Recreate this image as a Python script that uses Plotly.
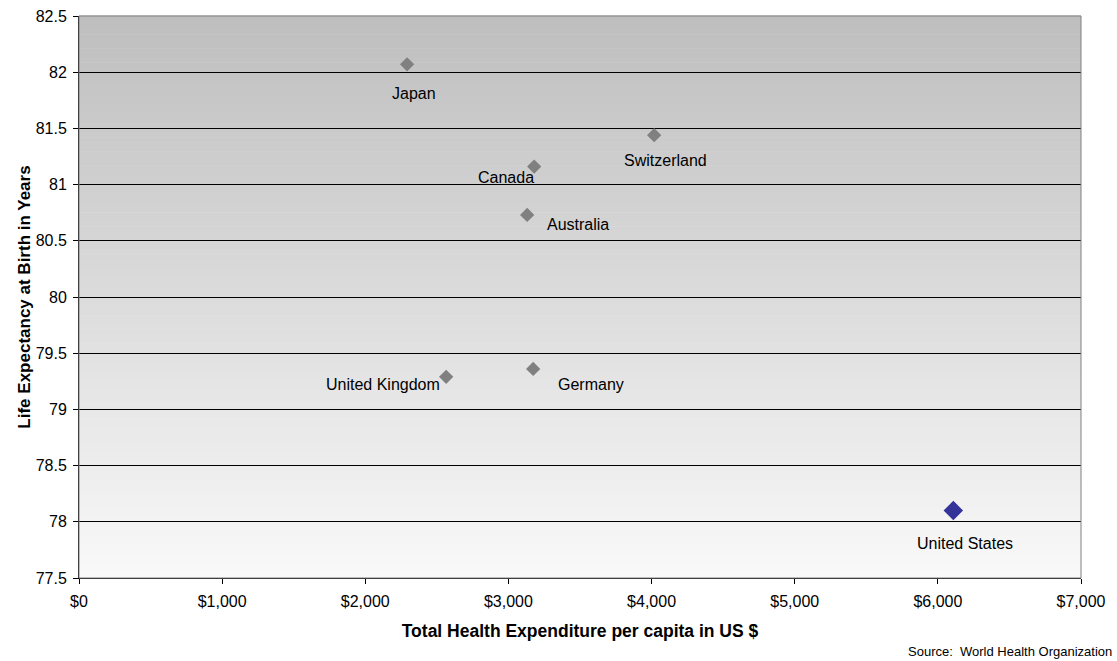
import plotly.graph_objects as go

countries = ["Japan", "Switzerland", "Canada", "Australia", "United Kingdom", "Germany", "United States"]
spending = [2292, 4018, 3180, 3131, 2565, 3173, 6108]
life_exp = [82.07, 81.44, 81.16, 80.73, 79.29, 79.36, 78.10]

# label offsets in pixels (dx, dy) relative to each point
label_offsets = {
    "Japan": (7, -29),
    "Switzerland": (11, -25),
    "Canada": (-28, -11),
    "Australia": (51, -10),
    "United Kingdom": (-63, -8),
    "Germany": (58, -16),
    "United States": (12, -33),
}

FONT = "Liberation Sans, Arial, sans-serif"

others = [i for i, c in enumerate(countries) if c != "United States"]
us = countries.index("United States")

fig = go.Figure()
fig.add_trace(go.Scatter(
    x=[spending[i] for i in others], y=[life_exp[i] for i in others],
    mode="markers", marker=dict(symbol="diamond", size=11, color="#808080"),
    showlegend=False, hoverinfo="skip",
))
fig.add_trace(go.Scatter(
    x=[spending[us]], y=[life_exp[us]],
    mode="markers", marker=dict(symbol="diamond", size=15, color="#333399"),
    showlegend=False, hoverinfo="skip",
))

annotations = []
for c, xv, yv in zip(countries, spending, life_exp):
    dx, dy = label_offsets[c]
    annotations.append(dict(
        x=xv, y=yv, xref="x", yref="y", text=c, showarrow=False,
        xshift=dx, yshift=dy, font=dict(family=FONT, size=16, color="#000000"),
    ))
annotations.append(dict(
    x=1.0, y=0, xref="paper", yref="paper", xanchor="right", yanchor="middle",
    text="Source:  World Health Organization", showarrow=False,
    xshift=33, yshift=-73, font=dict(family=FONT, size=13, color="#000000"),
))

# vertical gradient background for the plot area
shapes = []
n = 120
top = (190, 190, 190)
bot = (249, 249, 249)
for k in range(n):
    t = (k + 0.5) / n
    col = tuple(round(top[j] + (bot[j] - top[j]) * t) for j in range(3))
    shapes.append(dict(
        type="rect", xref="x domain", yref="y domain",
        x0=0, x1=1, y0=1 - (k + 1) / n, y1=1 - k / n + 0.001,
        fillcolor="rgb(%d,%d,%d)" % col, line=dict(width=0), layer="below",
    ))
# plot-area border
shapes.append(dict(
    type="rect", xref="x domain", yref="y domain", x0=0, x1=1, y0=0, y1=1,
    line=dict(color="#808080", width=1), layer="above",
))

fig.update_layout(
    width=1117, height=661,
    margin=dict(l=79, r=36, t=16, b=83),
    paper_bgcolor="white", plot_bgcolor="white",
    font=dict(family=FONT, size=16, color="#000000"),
    shapes=shapes, annotations=annotations,
    xaxis=dict(
        range=[0, 7000], tickvals=[0, 1000, 2000, 3000, 4000, 5000, 6000, 7000],
        ticktext=["$0", "$1,000", "$2,000", "$3,000", "$4,000", "$5,000", "$6,000", "$7,000"],
        showgrid=False, zeroline=False, showline=True, linecolor="#000000", linewidth=1,
        ticks="outside", ticklen=5, tickcolor="#000000", ticklabelstandoff=4,
        tickfont=dict(family=FONT, size=16),
        title=dict(text="<b>Total Health Expenditure per capita in US $</b>",
                   font=dict(family=FONT, size=17.5), standoff=15),
        automargin=False,
    ),
    yaxis=dict(
        range=[77.5, 82.5], tickvals=[77.5, 78, 78.5, 79, 79.5, 80, 80.5, 81, 81.5, 82, 82.5],
        ticktext=["77.5", "78", "78.5", "79", "79.5", "80", "80.5", "81", "81.5", "82", "82.5"],
        showgrid=True, gridcolor="#000000", gridwidth=1, zeroline=False,
        showline=True, linecolor="#000000", linewidth=1,
        ticks="outside", ticklen=5, tickcolor="#000000", ticklabelstandoff=3,
        tickfont=dict(family=FONT, size=16),
        title=dict(text="<b>Life Expectancy at Birth in Years</b>",
                   font=dict(family=FONT, size=17), standoff=0),
        automargin=False,
    ),
)

fig.write_html("out.html")
